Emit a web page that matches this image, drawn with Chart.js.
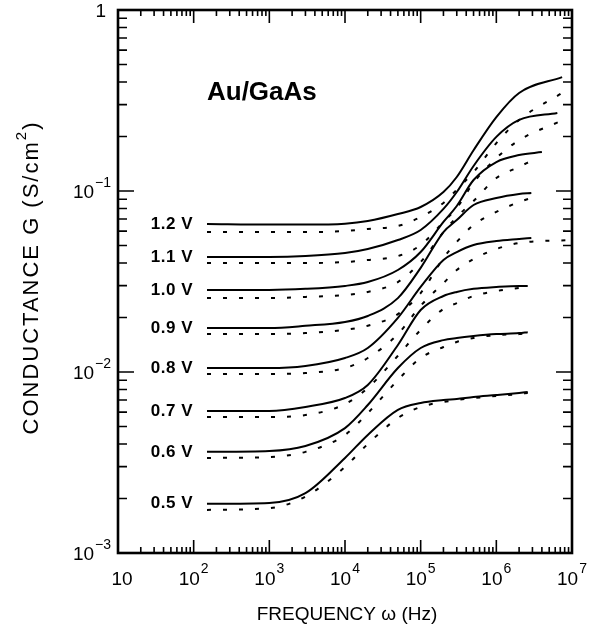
<!DOCTYPE html>
<html>
<head>
<meta charset="utf-8">
<script src="https://cdn.jsdelivr.net/npm/chart.js@4/dist/chart.umd.min.js"></script>
<style>
  html, body { margin: 0; padding: 0; background: #fff; }
  canvas { display: block; }
</style>
</head>
<body>
<canvas id="grafico" width="597" height="636"></canvas>
<script>
// Tensões (rótulos das curvas)
const tensoes = ['1.2 V', '1.1 V', '1.0 V', '0.9 V', '0.8 V', '0.7 V', '0.6 V', '0.5 V'];

// Frequências comuns (Hz)
const freqBase = [150, 1e3, 3e3, 1e4, 2e4, 5e4, 1e5, 2e5, 3e5, 5e5, 1e6, 2e6];

// Último ponto de cada curva (Hz)
const fimCheia = [7.4e6, 6.4e6, 4e6, 2.9e6, 2.9e6, 2.6e6, 2.6e6, 2.6e6];
const fimTracejada = [7.4e6, 7.2e6, 2.7e6, 2.9e6, 9.2e6, 2.6e6, 2.6e6, 2.6e6];

// Condutância G (S/cm^2), curvas cheias
const cheia12 = [0.0657, 0.0652, 0.0652, 0.0660, 0.0683, 0.0746, 0.0816, 0.0987, 0.1195, 0.168, 0.256, 0.348, 0.426];
const cheia11 = [0.0432, 0.0432, 0.0437, 0.0454, 0.0478, 0.0536, 0.0609, 0.0796, 0.0987, 0.1375, 0.199, 0.247, 0.270];
const cheia10 = [0.0284, 0.0284, 0.0288, 0.0299, 0.0314, 0.0366, 0.0460, 0.0675, 0.0826, 0.115, 0.1446, 0.158, 0.164];
const cheia09 = [0.0175, 0.0175, 0.0180, 0.0189, 0.0204, 0.0256, 0.0376, 0.0593, 0.0691, 0.0837, 0.0915, 0.0963, 0.0975];
const cheia08 = [0.01052, 0.01052, 0.0108, 0.01195, 0.01357, 0.0199, 0.0295, 0.0416, 0.0460, 0.0503, 0.0529, 0.0543, 0.0550];
const cheia07 = [0.00609, 0.00609, 0.00641, 0.00718, 0.00848, 0.0141, 0.0220, 0.0263, 0.0277, 0.0288, 0.0295, 0.0299, 0.0299];
const cheia06 = [0.00362, 0.00366, 0.0039, 0.0049, 0.00657, 0.01052, 0.01357, 0.0150, 0.01541, 0.0158, 0.0162, 0.0164, 0.0166];
const cheia05 = [0.00187, 0.00189, 0.00214, 0.00335, 0.00449, 0.00617, 0.00674, 0.0070, 0.0071, 0.00728, 0.00746, 0.00766, 0.00775];

// Condutância G (S/cm^2), curvas tracejadas
const trac12 = [0.0593, 0.0593, 0.0593, 0.0601, 0.0617, 0.0641, 0.0718, 0.0859, 0.1018, 0.127, 0.184, 0.247, 0.348];
const trac11 = [0.0400, 0.0400, 0.0400, 0.0405, 0.0416, 0.0437, 0.0503, 0.0675, 0.0806, 0.111, 0.152, 0.191, 0.244];
const trac10 = [0.0256, 0.0256, 0.0260, 0.0266, 0.0277, 0.0314, 0.0405, 0.0593, 0.0718, 0.088, 0.118, 0.136, 0.1446];
const trac09 = [0.0162, 0.0162, 0.0164, 0.0171, 0.0180, 0.0209, 0.0273, 0.0426, 0.0523, 0.0649, 0.0766, 0.0869, 0.0915];
const trac08 = [0.00975, 0.00975, 0.00987, 0.01052, 0.01195, 0.0162, 0.0232, 0.0310, 0.0366, 0.0421, 0.0478, 0.0516, 0.0536];
const trac07 = [0.00564, 0.00564, 0.00578, 0.00665, 0.00816, 0.0123, 0.0171, 0.0223, 0.0240, 0.0263, 0.0280, 0.0291, 0.0295];
const trac06 = [0.00335, 0.00339, 0.00362, 0.00449, 0.00593, 0.00903, 0.01195, 0.01374, 0.01466, 0.0154, 0.0160, 0.0162, 0.0164];
const trac05 = [0.00173, 0.00177, 0.00205, 0.00299, 0.0040, 0.00557, 0.00641, 0.00683, 0.0070, 0.00718, 0.00737, 0.00756, 0.00766];

const cheias = [cheia12, cheia11, cheia10, cheia09, cheia08, cheia07, cheia06, cheia05];
const tracejadas = [trac12, trac11, trac10, trac09, trac08, trac07, trac06, trac05];

// Rótulos dos eixos (expoentes das décadas)
const expoentesX = ['', '2', '3', '4', '5', '6', '7'];
const decadasX = [1e1, 1e2, 1e3, 1e4, 1e5, 1e6, 1e7];
const expoentesY = ['\u22123', '\u22122', '\u22121', ''];
const decadasY = [1e-3, 1e-2, 1e-1, 1];

const rotuloAmostra = { texto: 'Au/GaAs', freq: 150, g: 0.35 };

const fonte = '"Liberation Sans", Arial, Helvetica, sans-serif';

function montarPontos(valores, fim) {
    const xs = freqBase.concat([fim]);
    return valores.map((g, i) => ({ x: xs[i], y: g }));
}

const datasets = [];
cheias.forEach((valores, i) => {
    datasets.push({
        data: montarPontos(valores, fimCheia[i]),
        borderColor: '#000',
        borderWidth: 2,
        pointRadius: 0,
        cubicInterpolationMode: 'monotone',
        fill: false
    });
});
tracejadas.forEach((valores, i) => {
    datasets.push({
        data: montarPontos(valores, fimTracejada[i]),
        borderColor: '#000',
        borderWidth: 2,
        borderDash: [4, 12],
        pointRadius: 0,
        cubicInterpolationMode: 'monotone',
        fill: false
    });
});

// Desenha moldura, marcas, rótulos e títulos
const moldura = {
    id: 'moldura',
    afterDraw(chart) {
        const { ctx, chartArea: a } = chart;
        const x = chart.scales.x;
        const y = chart.scales.y;
        ctx.save();
        ctx.strokeStyle = '#000';
        ctx.fillStyle = '#000';

        // marcas para dentro nos quatro lados
        ctx.lineWidth = 1.6;
        ctx.beginPath();
        for (let d = 1; d <= 7; d++) {
            for (let m = 1; m <= 9; m++) {
                const v = m * Math.pow(10, d);
                if (v > 1e7 * 1.001) continue;
                const px = x.getPixelForValue(v);
                const len = m === 1 ? 13 : 6;
                ctx.moveTo(px, a.bottom); ctx.lineTo(px, a.bottom - len);
                ctx.moveTo(px, a.top); ctx.lineTo(px, a.top + len);
            }
        }
        for (let d = -3; d <= 0; d++) {
            for (let m = 1; m <= 9; m++) {
                const v = m * Math.pow(10, d);
                if (v > 1.001) continue;
                const py = y.getPixelForValue(v);
                const len = m === 1 ? 16 : 9;
                ctx.moveTo(a.left, py); ctx.lineTo(a.left + len, py);
                ctx.moveTo(a.right, py); ctx.lineTo(a.right - len, py);
            }
        }
        ctx.stroke();

        ctx.lineWidth = 2.6;
        ctx.strokeRect(a.left, a.top, a.right - a.left, a.bottom - a.top);

        // rótulos do eixo x
        ctx.textBaseline = 'alphabetic';
        ctx.textAlign = 'left';
        decadasX.forEach((v, i) => {
            ctx.font = '19px ' + fonte;
            const wb = ctx.measureText('10').width;
            ctx.font = '14px ' + fonte;
            const we = expoentesX[i] ? ctx.measureText(expoentesX[i]).width + 1 : 0;
            const x0 = x.getPixelForValue(v) - (wb + we) / 2 + (i === 0 ? 4 : 0);
            ctx.font = '19px ' + fonte;
            ctx.fillText('10', x0, a.bottom + 32);
            if (expoentesX[i]) {
                ctx.font = '14px ' + fonte;
                ctx.fillText(expoentesX[i], x0 + wb + 1, a.bottom + 20);
            }
        });

        // rótulos do eixo y
        decadasY.forEach((v, i) => {
            const py = y.getPixelForValue(v);
            const base = expoentesY[i] ? '10' : '1';
            ctx.font = '14px ' + fonte;
            const we = expoentesY[i] ? ctx.measureText(expoentesY[i]).width + 1 : 0;
            ctx.font = '19px ' + fonte;
            const wb = ctx.measureText(base).width;
            const x0 = a.left - 7 - we - wb - (expoentesY[i] ? 0 : 5);
            ctx.fillText(base, x0, py + 7);
            if (expoentesY[i]) {
                ctx.font = '14px ' + fonte;
                ctx.fillText(expoentesY[i], x0 + wb + 1, py - 4);
            }
        });

        // título do eixo x
        ctx.font = '19px ' + fonte;
        ctx.textAlign = 'center';
        ctx.fillText('FREQUENCY \u03c9 (Hz)', (a.left + a.right) / 2 + 2, 620);

        // título do eixo y (girado)
        ctx.save();
        ctx.translate(32, (a.top + a.bottom) / 2 - 4);
        ctx.rotate(-Math.PI / 2);
        ctx.textAlign = 'left';
        ctx.textBaseline = 'middle';
        ctx.letterSpacing = '2px';
        ctx.font = '22px ' + fonte;
        const p1 = 'CONDUCTANCE G (S/cm';
        const w1 = ctx.measureText(p1).width;
        ctx.font = '15px ' + fonte;
        const w2 = ctx.measureText('2').width;
        ctx.font = '22px ' + fonte;
        const w3 = ctx.measureText(')').width;
        let cx = -(w1 + w2 + w3) / 2;
        ctx.fillText(p1, cx, 0);
        cx += w1;
        ctx.font = '15px ' + fonte;
        ctx.fillText('2', cx, -10);
        cx += w2;
        ctx.font = '22px ' + fonte;
        ctx.fillText(')', cx, 0);
        ctx.restore();

        // rótulos das curvas
        ctx.font = 'bold 17px ' + fonte;
        ctx.letterSpacing = '0.5px';
        ctx.textAlign = 'right';
        ctx.textBaseline = 'middle';
        tensoes.forEach((t, i) => {
            const px = x.getPixelForValue(freqBase[0]) - 14;
            const py = y.getPixelForValue(cheias[i][0]);
            ctx.fillText(t, px, py);
        });

        // nome da amostra
        ctx.letterSpacing = '0px';
        ctx.font = 'bold 26px ' + fonte;
        ctx.textAlign = 'left';
        ctx.fillText(rotuloAmostra.texto, x.getPixelForValue(rotuloAmostra.freq), y.getPixelForValue(rotuloAmostra.g));

        ctx.restore();
    }
};

const ctx = document.getElementById('grafico').getContext('2d');
new Chart(ctx, {
    type: 'line',
    data: { datasets },
    options: {
        responsive: false,
        animation: false,
        devicePixelRatio: 1,
        layout: { padding: { left: 118, right: 25, top: 10, bottom: 83 } },
        plugins: {
            legend: { display: false },
            tooltip: { enabled: false }
        },
        scales: {
            x: { type: 'logarithmic', min: 10, max: 1e7, display: false },
            y: { type: 'logarithmic', min: 1e-3, max: 1, display: false }
        }
    },
    plugins: [moldura]
});
</script>
</body>
</html>
